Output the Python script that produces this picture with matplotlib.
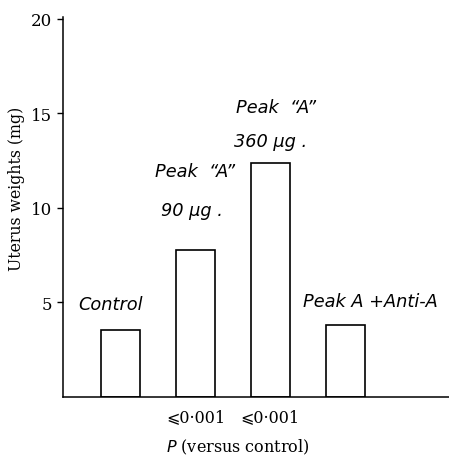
import numpy as np
import matplotlib
matplotlib.use("Agg")
from matplotlib import pyplot as plt

# uterus weight per treatment group (mg)
groups = ["Control", "Peak A 90", "Peak A 360", "Peak A + Anti-A"]
weights = [3.55, 7.8, 12.4, 3.8]
p_labels = ["", "\u2a7d0\u00b7001", "\u2a7d0\u00b7001", ""]

serif = ["DejaVu Serif", "DejaVu Sans"]
sans = ["DejaVu Sans"]

fig = plt.figure(figsize=(4.49, 4.56), dpi=100)
ax = fig.add_axes([0.1403, 0.1272, 0.8597, 0.8333])

x = np.arange(1, len(groups) + 1)
ax.bar(x, weights, width=0.52, facecolor="white", edgecolor="black", linewidth=1.2)

ax.set_xlim(0.227, 5.39)
ax.set_ylim(0, 20.1)

for s in ["top", "right"]:
    ax.spines[s].set_visible(False)
ax.spines["left"].set_linewidth(1.1)
ax.spines["bottom"].set_linewidth(1.1)

ax.set_yticks([5, 10, 15, 20])
ax.set_yticklabels(["5", "10", "15", "20"], family=serif, fontsize=12)
ax.tick_params(axis="y", length=4, width=1, pad=4)

ax.set_xticks(x)
ax.set_xticklabels(p_labels, family=serif, fontsize=11.5)
ax.tick_params(axis="x", length=0, pad=8)

ax.set_ylabel("Uterus weights (mg)", family=serif, fontsize=11.3)
ax.yaxis.set_label_coords(-0.098, 0.55)
ax.set_xlabel("$P$ (versus control)", family=serif, fontsize=11.5)
ax.xaxis.set_label_coords(0.453, -0.105)

# notes above the bars (sans, slanted)
note = dict(ha="center", va="center", family=sans, style="italic", fontsize=12.8)
ax.text(0.867, 4.91, "Control", **note)
ax.text(1.987, 11.98, "Peak  \u201cA\u201d", **note)
ax.text(1.947, 9.87, "90 \u00b5g .", **note)
ax.text(3.08, 15.36, "Peak  \u201cA\u201d", **note)
ax.text(3.0, 13.56, "360 \u00b5g .", **note)
ax.text(4.333, 5.07, "Peak A +Anti-A", **note)

fig.savefig("out.png", dpi=100)
